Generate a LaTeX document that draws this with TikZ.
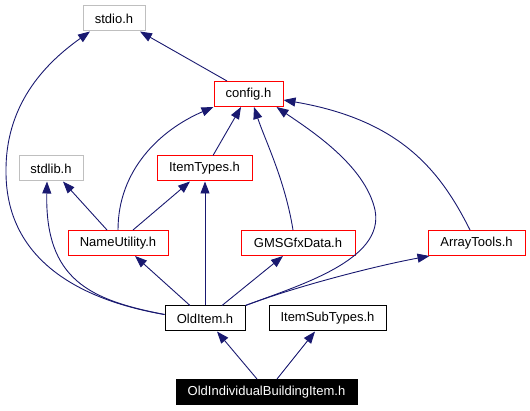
\documentclass[tikz,border=0pt]{standalone}
\usepackage{fontspec}
\setmainfont{Liberation Sans}
\usepackage{xcolor}
\usepackage{tikz}
\usetikzlibrary{arrows.meta,positioning}
\definecolor{edgeblue}{HTML}{191970}
\definecolor{sysgray}{HTML}{BFBFBF}

\begin{document}
\begin{tikzpicture}[
  x=1pt, y=-1pt,
  file/.style={draw,minimum height=25pt,inner sep=0pt,line width=1pt,
               font=\fontsize{13}{15}\selectfont},
  redbox/.style={file,draw=red},
  graybox/.style={file,draw=sysgray},
  blackbox/.style={file,draw=black},
  rootbox/.style={file,draw=black,fill=black,text=white},
  dep/.style={-{Triangle[length=12pt,width=9pt]},line width=0.9pt,color=edgeblue}
]
\useasboundingbox (0,0) rectangle (530,411);
\node[graybox,minimum width=62pt] (stdio-h) at (114,18.5) {stdio.h};
\node[redbox,minimum width=69pt] (config-h) at (248.5,94) {config.h};
\node[graybox,minimum width=64pt] (stdlib-h) at (51,168.5) {stdlib.h};
\node[redbox,minimum width=95pt] (item-types) at (204.5,168.5) {ItemTypes.h};
\node[redbox,minimum width=100pt] (name-utility) at (118,243) {NameUtility.h};
\node[redbox,minimum width=114pt] (gms-gfx) at (298,243) {GMSGfxData.h};
\node[redbox,minimum width=97pt] (array-tools) at (476.5,243) {ArrayTools.h};
\node[blackbox,minimum width=80pt] (old-item) at (205,318.5) {OldItem.h};
\node[blackbox,minimum width=117pt] (item-subtypes) at (327.5,318.5) {ItemSubTypes.h};
\node[rootbox,minimum width=181pt] (old-building) at (266.5,392) {OldIndividualBuildingItem.h};
\draw[dep] ([xshift=-21.5pt]config-h.north) -- ([xshift=26pt]stdio-h.south);
\draw[dep] ([yshift=4pt]old-item.west) .. controls (80,300) and (5,260) .. (6,170)
  .. controls (6,100) and (50,60) .. ([xshift=-24pt]stdio-h.south);
\draw[dep] ([yshift=4pt]old-item.west) .. controls (90,300) and (45,280) .. ([xshift=-4pt]stdlib-h.south);
\draw[dep] (name-utility.north) .. controls (118,170) and (160,130) .. (config-h.south west);
\draw[dep] ([xshift=8.5pt]item-types.north) -- ([xshift=-7.5pt]config-h.south);
\draw[dep] ([xshift=-5pt]gms-gfx.north) .. controls (285,180) and (265,140) .. ([xshift=5.5pt]config-h.south);
\draw[dep] (old-item.north east) .. controls (300,285) and (385,260) .. (375,210)
  .. controls (365,165) and (310,130) .. ([xshift=28pt]config-h.south);
\draw[dep] ([xshift=-6.5pt]array-tools.north) .. controls (440,170) and (400,120) .. ([yshift=-6pt]config-h.east);
\draw[dep] ([xshift=-11pt]name-utility.north) -- ([xshift=12pt]stdlib-h.south);
\draw[dep] ([xshift=15pt]name-utility.north) -- ([xshift=-14.5pt]item-types.south);
\draw[dep] ([xshift=-15pt]old-item.north) -- ([xshift=17pt]name-utility.south);
\draw[dep] (old-item.north) -- (old-item.north |- item-types.south);
\draw[dep] ([xshift=17pt]old-item.north) -- ([xshift=-15pt]gms-gfx.south);
\draw[dep] (old-item.north east) .. controls (300,285) and (380,265) .. ([xshift=2pt]array-tools.south west);
\draw[dep] ([xshift=-9.5pt]old-building.north) -- ([xshift=12pt]old-item.south);
\draw[dep] ([xshift=10.5pt]old-building.north) -- ([xshift=-12.5pt]item-subtypes.south);
\end{tikzpicture}
\end{document}
